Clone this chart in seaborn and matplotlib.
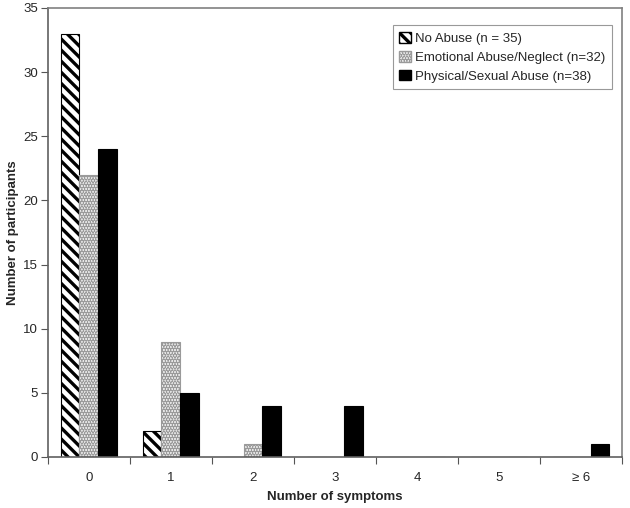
import numpy as np
import pandas as pd
import matplotlib
matplotlib.use("Agg")
import matplotlib.pyplot as plt
import seaborn as sns

categories = ["0", "1", "2", "3", "4", "5", "\u2265 6"]
groups = ["No Abuse (n = 35)", "Emotional Abuse/Neglect (n=32)", "Physical/Sexual Abuse (n=38)"]
no_abuse = [33, 2, 0, 0, 0, 0, 0]
emotional = [22, 9, 1, 0, 0, 0, 0]
physical = [24, 5, 4, 4, 0, 0, 1]

df = pd.DataFrame({
    "symptoms": categories * 3,
    "group": [groups[0]] * 7 + [groups[1]] * 7 + [groups[2]] * 7,
    "count": no_abuse + emotional + physical,
})

sns.set_style("ticks")
plt.rcParams["font.family"] = ["Liberation Sans", "DejaVu Sans"]
plt.rcParams["hatch.linewidth"] = 2.4

fig = plt.figure(figsize=(6.3, 5.08), dpi=100)
ax = fig.add_axes([0.0757, 0.1004, 0.912, 0.884])

sns.barplot(data=df, x="symptoms", y="count", hue="group", order=categories,
            hue_order=groups, width=0.685, gap=0, ax=ax, legend=True)

# fills: diagonal stripes, fine dots, solid black
styles = [
    dict(facecolor="white", edgecolor="black", hatch="\\\\\\"),
    dict(facecolor="#f4f4f4", edgecolor="#9a9a9a", hatch="......"),
    dict(facecolor="black", edgecolor="black", hatch=None),
]
for cont, st in zip(ax.containers, styles):
    for bar in cont:
        bar.set_facecolor(st["facecolor"])
        bar.set_edgecolor(st["edgecolor"])
        bar.set_hatch(st["hatch"])
        bar.set_linewidth(0.8)

ax.set_ylim(0, 35)
ax.set_yticks(np.arange(0, 36, 5))
ax.set_xlim(-0.5, 6.5)
ax.set_xticks(np.arange(-0.5, 7, 1))
ax.set_xticklabels([])
ax.set_xticks(np.arange(7), minor=True)
ax.set_xticklabels(categories, minor=True)
ax.tick_params(axis="x", which="major", direction="out", length=5, width=0.8,
               color="#555555", bottom=True)
ax.tick_params(axis="x", which="minor", length=0, labelsize=9.5, pad=11, bottom=True)
ax.tick_params(axis="y", direction="out", length=5, width=0.8, color="#555555",
               labelsize=9.5, pad=2, left=True)

for s in ax.spines.values():
    s.set_visible(True)
    s.set_color("#808080")
    s.set_linewidth(1.2)
ax.spines["left"].set_color("#606060")
ax.spines["bottom"].set_color("#606060")

ax.set_xlabel("Number of symptoms", fontsize=9.5, fontweight="bold", labelpad=5)
ax.set_ylabel("Number of participants", fontsize=9.5, fontweight="bold", labelpad=3)

handles, labels = ax.get_legend_handles_labels()
for h, st in zip(handles, styles):
    h.set_facecolor(st["facecolor"])
    h.set_edgecolor(st["edgecolor"])
    h.set_hatch(st["hatch"])
leg = ax.legend(handles, labels, loc="upper right", bbox_to_anchor=(0.982, 0.962),
                fontsize=9.5, frameon=True, fancybox=False, handlelength=0.9,
                handleheight=0.9, handletextpad=0.3, borderpad=0.5, labelspacing=0.45,
                borderaxespad=0)
leg.get_frame().set_edgecolor("#808080")
leg.get_frame().set_linewidth(0.8)

fig.savefig("out.png", dpi=100)
